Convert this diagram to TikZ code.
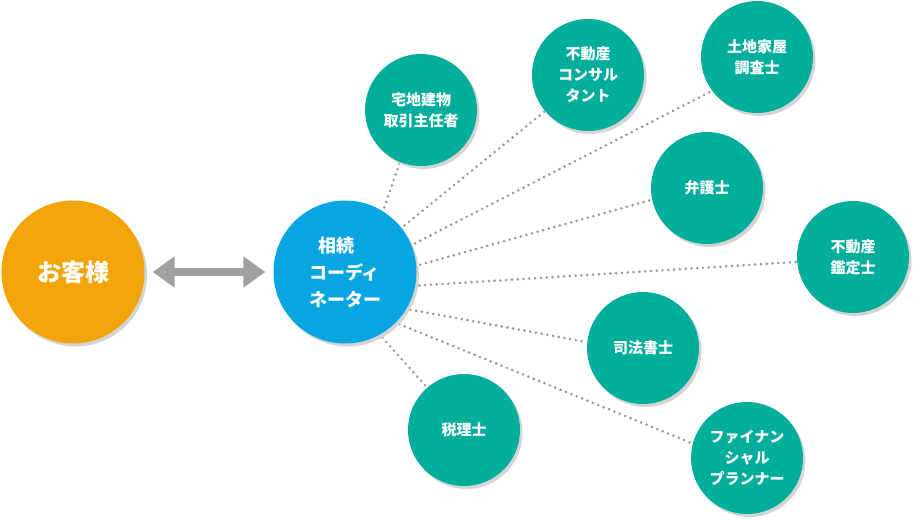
\documentclass[tikz,border=0pt]{standalone}
\usepackage{fontspec}
\setmainfont{Noto Sans CJK JP}
\usetikzlibrary{arrows.meta,shadows,backgrounds}
\definecolor{kyakucol}{HTML}{F4A40B}
\definecolor{coordcol}{HTML}{08A6E0}
\definecolor{expertcol}{HTML}{00AE9B}
\definecolor{dotcol}{HTML}{999999}
\definecolor{arrowcol}{HTML}{A0A0A0}
\tikzset{
  bigdisc/.style={circle, inner sep=0pt, minimum size=143pt, text=white,
    drop shadow={shadow xshift=2.5pt, shadow yshift=-3pt, opacity=1, fill=black!17}},
  expert/.style={circle, fill=expertcol, inner sep=0pt, minimum size=112pt, text=white,
    align=center, font=\fontsize{15}{21}\selectfont\bfseries,
    drop shadow={shadow xshift=2.5pt, shadow yshift=-3pt, opacity=1, fill=black!17}},
  link/.style={draw=dotcol, line width=2.9pt, line cap=round, dash pattern=on 0pt off 5.8pt,
    shorten <=4pt},
}
\begin{document}
\begin{tikzpicture}[x=1pt, y=-1pt]
    \useasboundingbox (0,0) rectangle (913,519);
    \node[bigdisc, fill=kyakucol, font=\fontsize{24}{30}\selectfont\bfseries] (kyaku) at (73,272) {お客様};
    \node[bigdisc, fill=coordcol, align=left, font=\fontsize{18}{27}\selectfont\bfseries] (coord) at (345,272) {\hspace{9pt}相続\\コーディ\\ネーター};
    \node[expert] (takken) at (421,110) {宅地建物\\取引主任者};
    \node[expert] (consul) at (588,75) {不動産\\コンサル\\タント};
    \node[expert] (chousa) at (757,57) {土地家屋\\調査士};
    \node[expert] (bengo) at (707,188) {弁護士};
    \node[expert] (kantei) at (853,257) {不動産\\鑑定士};
    \node[expert] (shihou) at (643,348) {司法書士};
    \node[expert] (zeiri) at (464,430) {税理士};
    \node[expert] (fp) at (747,458) {ファイナン\\シャル\\プランナー};
    \draw[arrowcol, line width=8pt, {Triangle[length=22pt,width=30pt]}-{Triangle[length=22pt,width=30pt]},
        shorten <=8pt, shorten >=8pt] (kyaku) -- (coord);
    \begin{scope}[on background layer]
        \path (coord.58) edge[link] (takken.248);
        \path (coord.38) edge[link] (consul.220);
        \path (coord.22) edge[link] (chousa.217);
        \path (coord.5) edge[link] (bengo.192);
        \path (coord.-11) edge[link] (kantei.185);
        \path (coord.-31) edge[link] (shihou.174);
        \path (coord.-45) edge[link] (fp.165);
        \path (coord.-61) edge[link] (zeiri.131);
    \end{scope}
\end{tikzpicture}
\end{document}
